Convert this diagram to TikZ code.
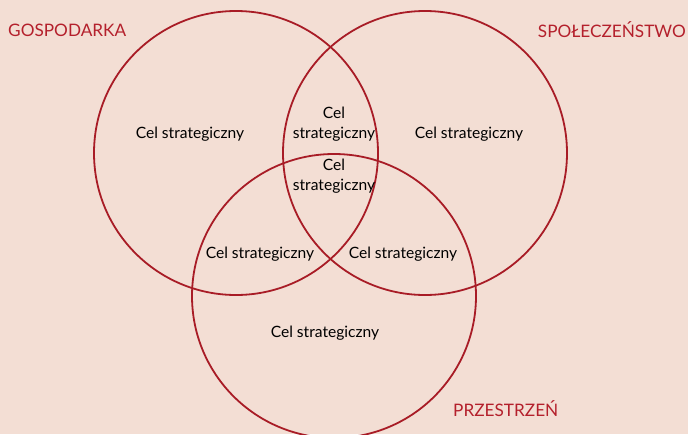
\documentclass[tikz,border=0pt]{standalone}
\usepackage{fontspec}
\setmainfont{Lato}
\definecolor{bgpink}{HTML}{F3DED4}
\definecolor{ringred}{HTML}{A81C26}
\definecolor{labelred}{HTML}{B4202C}
\begin{document}
\begin{tikzpicture}[x=1pt,y=-1pt,
  ring/.style={draw=ringred,line width=1.8pt},
  goal/.style={font=\fontsize{15.6}{20.5}\selectfont,text=black,align=center,inner sep=0pt},
  area/.style={font=\fontsize{17.2}{20}\selectfont,text=labelred,inner sep=0pt}]
  \fill[bgpink] (0,0) rectangle (688,434);
  \useasboundingbox (0,0) rectangle (688,434);
  % three overlapping areas
  \begin{scope}
    \clip (0,0) rectangle (688,434);
    \node[ring,circle,minimum size=284pt,inner sep=0pt] (econ) at (236,153) {};
    \node[ring,circle,minimum size=284pt,inner sep=0pt] (soc) at (425,153) {};
    \node[ring,circle,minimum size=284pt,inner sep=0pt] (space) at (334,296) {};
  \end{scope}
  % area names
  \node[area,anchor=west] (lblecon) at (8,30) {GOSPODARKA};
  \node[area,anchor=east] (lblsoc) at (686,30) {SPOŁECZEŃSTWO};
  \node[area,anchor=west] (lblspace) at (453,409) {PRZESTRZEŃ};
  % strategic goals
  \node[goal] (g1) at (190,134) {Cel strategiczny};
  \node[goal] (g2) at (469,134) {Cel strategiczny};
  \node[goal] (g3) at (325,333) {Cel strategiczny};
  \node[goal] (g12) at (334,124) {Cel\\strategiczny};
  \node[goal] (g123) at (334,176) {Cel\\strategiczny};
  \node[goal] (g13) at (260,254) {Cel strategiczny};
  \node[goal] (g23) at (403,254) {Cel strategiczny};
\end{tikzpicture}
\end{document}
